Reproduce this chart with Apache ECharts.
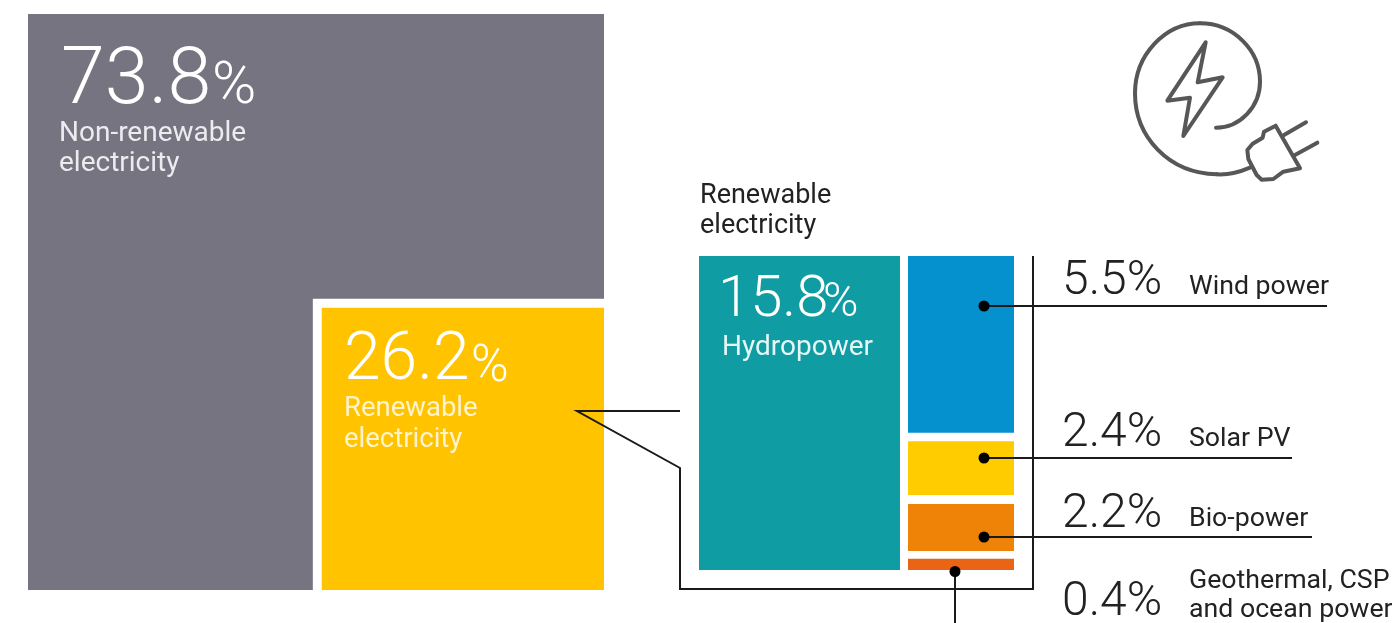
<!DOCTYPE html>
<html>
<head>
<meta charset="utf-8">
<script src="https://cdn.jsdelivr.net/npm/echarts@6/dist/echarts.min.js"></script>
<style>html,body{margin:0;padding:0;background:#fff}#c{width:1392px;height:623px}</style>
</head>
<body>
<div id="c"></div>
<script>
// Headline shares (per cent)
var nonRenewableShare = 73.8;
var renewableShare = 26.2;
var hydroShare = 15.8;
var detailNames = ['Wind power', 'Solar PV', 'Bio-power', 'Geothermal, CSP\nand ocean power'];
var detailShares = [5.5, 2.4, 2.2, 0.4];
var detailColors = ['#0591CD', '#FFCC00', '#EF8308', '#EA6415'];
// Block lengths as drawn in the picture, read on the hydropower column's scale (the picture is not proportional)
var detailDrawn = [8.89, 2.71, 2.36, 0.56];
var detailGaps = [0.43, 0.45, 0.40];
// Inset square as drawn, read as % of the big square's side
var insetSide = 49;
var insetGap = 1.55;

var FONT = 'Roboto';
var chart = echarts.init(document.getElementById('c'), null, {renderer: 'canvas'});

function hiddenAxis(o) { return Object.assign({show: false}, o); }

// stacked segments with transparent spacers
var stackSeries = [];
detailDrawn.forEach(function (v, i) {
  stackSeries.push({type: 'bar', xAxisIndex: 2, yAxisIndex: 2, stack: 'd', barWidth: '100%', silent: true,
    name: detailNames[i], data: [v], itemStyle: {color: detailColors[i]}});
  if (i < detailGaps.length) {
    stackSeries.push({type: 'bar', xAxisIndex: 2, yAxisIndex: 2, stack: 'd', barWidth: '100%', silent: true,
      data: [detailGaps[i]], itemStyle: {color: 'transparent'}});
  }
});

function txt(x, y, s, size, color, weight) {
  return {type: 'text', x: x, y: y, z: 100, silent: true, style: {text: s, font: (weight || 400) + ' ' + size + 'px ' + FONT,
    fill: color, verticalAlign: 'middle', lineHeight: size * 1.1}};
}
function line(points, w) {
  return {type: 'polyline', z: 100, silent: true, shape: {points: points}, style: {stroke: '#1a1a1a', lineWidth: w || 2, fill: null}};
}
function dot(x, y) {
  return {type: 'circle', z: 101, silent: true, shape: {cx: x, cy: y, r: 5.5}, style: {fill: '#000'}};
}
var iconStyle = {stroke: '#575757', lineWidth: 12, fill: null, lineJoin: 'round', lineCap: 'round'};
function iconEl(type, shape) {
  return {type: type, z: 100, silent: true, x: 1110, y: 5, scaleX: 1 / 3, scaleY: 1 / 3, shape: shape, style: iconStyle};
}
function bez(a, c1, c2, b) {
  return iconEl('bezierCurve', {x1: a[0], y1: a[1], cpx1: c1[0], cpy1: c1[1], cpx2: c2[0], cpy2: c2[1], x2: b[0], y2: b[1]});
}

var WHITE = '#ffffff', DARK = '#222222';
var graphics = [
  // leaders
  line([[680, 411], [577, 411], [680, 468], [680, 589], [1033, 589], [1033, 256]]),
  line([[984, 306], [1327, 306]]),
  line([[984, 458], [1292, 458]]),
  line([[984, 537], [1312, 537]]),
  line([[955, 571], [955, 623]]),
  dot(984, 306), dot(984, 458), dot(984, 537), dot(955, 571.5),
  // big-square texts
  txt(61, 83, nonRenewableShare.toFixed(1), 79, WHITE, 300),
  txt(212, 88, '%', 60, WHITE, 300),
  txt(59, 149, 'Non-renewable\nelectricity', 28, '#ececf0', 400),
  txt(344, 362, renewableShare.toFixed(1), 66, WHITE, 300),
  txt(471, 368, '%', 51, WHITE, 300),
  txt(344, 424.5, 'Renewable\nelectricity', 27.5, '#fff3cc', 400),
  txt(700, 211, 'Renewable\nelectricity', 27, DARK, 400),
  txt(718, 301, hydroShare.toFixed(1), 58, WHITE, 300),
  txt(823, 304, '%', 48, WHITE, 300),
  txt(722, 348, 'Hydropower', 28, '#e6f6f6', 400)
];
var detailNumY = [282, 434, 515, 603];
var detailNameY = [287, 439, 519, 596];
detailShares.forEach(function (v, i) {
  graphics.push(txt(1062, detailNumY[i], v.toFixed(1) + '%', 48, DARK, 300));
  graphics.push(txt(1189, detailNameY[i], detailNames[i], 26.7, DARK, 400));
});
// plug-and-bolt icon
graphics.push(bez([420, 488], [385, 503], [350, 510], [320, 508]));
graphics.push(bez([320, 508], [175, 505], [75, 395], [75, 265]));
graphics.push(bez([75, 265], [75, 150], [165, 55], [270, 55]));
graphics.push(bez([270, 55], [370, 55], [450, 135], [450, 230]));
graphics.push(bez([450, 230], [450, 305], [390, 368], [318, 368]));
graphics.push(iconEl('polygon', {points: [[287, 112], [172, 287], [240, 278], [220, 393], [338, 217], [263, 232]]}));
graphics.push(iconEl('polygon', {points: [[497, 362], [462, 380], [458, 398], [428, 416], [412, 435], [415, 462], [440, 510], [455, 524], [490, 522], [520, 500], [570, 490]]}));
graphics.push(iconEl('polyline', {points: [[522, 390], [588, 352]]}));
graphics.push(iconEl('polyline', {points: [[555, 450], [622, 413]]}));

chart.setOption({
  animation: false,
  backgroundColor: '#ffffff',
  grid: [
    {left: 28, top: 14, width: 576, height: 576},
    {left: 699, top: 256, width: 201, height: 314},
    {left: 908, top: 256, width: 106, height: 314}
  ],
  xAxis: [
    hiddenAxis({type: 'value', gridIndex: 0, min: 0, max: 100}),
    hiddenAxis({type: 'category', gridIndex: 1, data: ['Hydropower']}),
    hiddenAxis({type: 'category', gridIndex: 2, data: ['Other renewables']})
  ],
  yAxis: [
    hiddenAxis({type: 'value', gridIndex: 0, min: 0, max: 100}),
    hiddenAxis({type: 'value', gridIndex: 1, min: 0, max: hydroShare, inverse: true}),
    hiddenAxis({type: 'value', gridIndex: 2, min: 0, max: hydroShare, inverse: true})
  ],
  series: [
    {
      type: 'custom', xAxisIndex: 0, yAxisIndex: 0, silent: true, clip: false,
      data: [[nonRenewableShare, 0], [renewableShare, 1]],
      renderItem: function (params, api) {
        var pts;
        if (api.value(1) === 0) {
          var o = insetSide + insetGap, e = 100 - o;
          pts = [[0, 0], [0, 100], [100, 100], [100, o], [e, o], [e, 0]];
          return {type: 'polygon', shape: {points: pts.map(function (p) { return api.coord(p); })}, style: {fill: '#767480'}};
        }
        var s = 100 - insetSide;
        pts = [[s, 0], [s, insetSide], [100, insetSide], [100, 0]];
        return {type: 'polygon', shape: {points: pts.map(function (p) { return api.coord(p); })}, style: {fill: '#FFC300'}};
      }
    },
    {type: 'bar', xAxisIndex: 1, yAxisIndex: 1, barWidth: '100%', silent: true, name: 'Hydropower',
      data: [hydroShare], itemStyle: {color: '#109CA3'}}
  ].concat(stackSeries),
  graphic: {elements: graphics}
});
</script>
</body>
</html>
